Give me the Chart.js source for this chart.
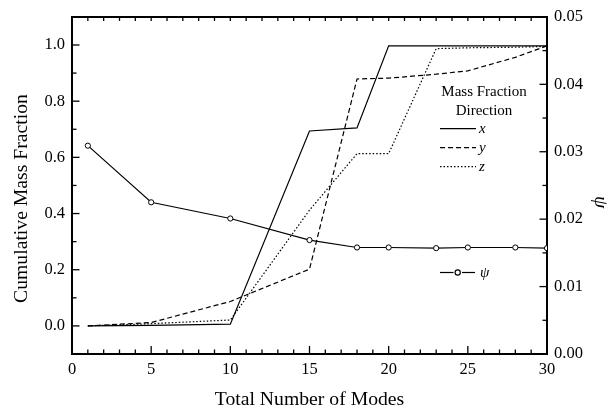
<!DOCTYPE html>
<html><head><meta charset="utf-8">
<script src="https://cdn.jsdelivr.net/npm/chart.js@4/dist/chart.umd.min.js"></script>
<style>html,body{margin:0;padding:0;background:#fff;} canvas{display:block;}</style>
</head><body>
<canvas id="c" width="608" height="415"></canvas>
<script>
// ---- data ----
const modes = [1, 5, 10, 15, 18, 20, 23, 25, 28, 30];
const massX = [0, 0.002, 0.006, 0.694, 0.705, 0.997, 0.997, 0.997, 0.997, 0.997];
const massY = [0, 0.012, 0.087, 0.202, 0.879, 0.882, 0.896, 0.908, 0.956, 0.997];
const massZ = [0, 0.008, 0.021, 0.412, 0.613, 0.613, 0.987, 0.990, 0.992, 0.995];
const psi   = [0.0309, 0.0225, 0.0201, 0.0169, 0.0158, 0.0158, 0.0157, 0.0158, 0.0158, 0.0157];
const xTicks = [0, 5, 10, 15, 20, 25, 30];
const leftTicks = [0, 0.2, 0.4, 0.6, 0.8, 1.0];
const rightTicks = [0, 0.01, 0.02, 0.03, 0.04, 0.05];
const xTitle = 'Total Number of Modes';
const leftTitle = 'Cumulative Mass Fraction';
const rightTitle = 'ψ';
const legendHeader = ['Mass Fraction', 'Direction'];
const legendLabels = ['x', 'y', 'z'];
const psiLabel = 'ψ';

const FONT = '"Liberation Serif", "Times New Roman", serif';
const TICK_SIZE = 16.5;
const dashes = [[], [5, 3], [1.5, 2]];

function pts(ys) { return modes.map((m, i) => ({x: m, y: ys[i]})); }

const decor = {
  id: 'decor',
  afterDraw(chart) {
    const {ctx, chartArea: a, scales} = chart;
    const sx = scales.x, sy = scales.y, s2 = scales.y2;
    ctx.save();
    ctx.strokeStyle = '#000';
    ctx.fillStyle = '#000';
    const seg = (x1, y1, x2, y2) => { ctx.beginPath(); ctx.moveTo(x1, y1); ctx.lineTo(x2, y2); ctx.stroke(); };
    // top frame
    ctx.lineWidth = 2;
    seg(a.left - 1, a.top, a.right + 1, a.top);
    // inward ticks
    ctx.lineWidth = 1.3;
    for (let v = 0; v <= 30; v++) {
      const px = sx.getPixelForValue(v);
      const major = v % 5 === 0;
      seg(px, a.bottom, px, a.bottom - (major ? 8 : 4.5));
      seg(px, a.top, px, a.top + 4);
    }
    for (let i = -1; i <= 11; i++) {
      const py = sy.getPixelForValue(i / 10);
      const major = i % 2 === 0;
      seg(a.left, py, a.left + (major ? 7.5 : 4.5), py);
    }
    for (let i = 0; i <= 10; i++) {
      const py = s2.getPixelForValue(i * 0.005);
      const major = i % 2 === 0;
      seg(a.right, py, a.right - (major ? 7.5 : 4.5), py);
    }
    // axis titles (left and right)
    ctx.font = '19.7px ' + FONT;
    ctx.textAlign = 'center';
    ctx.textBaseline = 'middle';
    ctx.save();
    ctx.translate(22, 198.5);
    ctx.rotate(-Math.PI / 2);
    ctx.fillText(leftTitle, 0, 0);
    ctx.restore();
    ctx.save();
    ctx.font = 'italic 19.7px ' + FONT;
    ctx.translate(600, 202);
    ctx.rotate(Math.PI / 2);
    ctx.fillText(rightTitle, 0, 0);
    ctx.restore();
    // legend
    ctx.font = '15px ' + FONT;
    ctx.textBaseline = 'alphabetic';
    ctx.fillText(legendHeader[0], 484, 95.7);
    ctx.fillText(legendHeader[1], 484, 115);
    const rows = [128.7, 147.7, 166.7];
    ctx.textAlign = 'left';
    ctx.font = 'italic 15px ' + FONT;
    rows.forEach((ry, i) => {
      ctx.setLineDash(dashes[i]);
      ctx.lineWidth = 1.2;
      seg(440, ry, 476, ry);
      ctx.setLineDash([]);
      ctx.fillText(legendLabels[i], 479, ry + 4);
    });
    const py = 272.5;
    ctx.lineWidth = 1.2;
    seg(440, py, 453.5, py);
    seg(462, py, 475, py);
    ctx.beginPath();
    ctx.arc(457.7, py, 2.6, 0, Math.PI * 2);
    ctx.fillStyle = '#fff';
    ctx.fill();
    ctx.stroke();
    ctx.fillStyle = '#000';
    ctx.fillText(psiLabel, 480, py + 4);
    ctx.restore();
  }
};

const lineDs = (label, ys, i) => ({
  label, data: pts(ys), yAxisID: 'y', borderColor: '#000', borderWidth: 1.2,
  borderDash: dashes[i], pointRadius: 0, fill: false, tension: 0
});

new Chart(document.getElementById('c'), {
  type: 'line',
  data: {
    datasets: [
      lineDs('x', massX, 0),
      lineDs('y', massY, 1),
      lineDs('z', massZ, 2),
      {label: 'ψ', data: pts(psi), yAxisID: 'y2', borderColor: '#000', borderWidth: 1.2,
       pointRadius: 2.6, pointBackgroundColor: '#fff', pointBorderColor: '#000', pointBorderWidth: 1,
       fill: false, tension: 0}
    ]
  },
  options: {
    responsive: false, animation: false, devicePixelRatio: 1,
    layout: {padding: {top: 16, left: 0, right: 0, bottom: 0}},
    plugins: {legend: {display: false}, tooltip: {enabled: false}},
    scales: {
      x: {
        type: 'linear', position: 'bottom', min: 0, max: 30,
        afterBuildTicks: s => { s.ticks = xTicks.map(v => ({value: v})); },
        afterFit: s => { s.height = 61; },
        grid: {display: false, drawTicks: false},
        border: {display: true, color: '#000', width: 2},
        ticks: {color: '#000', padding: 6, font: {family: FONT, size: TICK_SIZE}, maxRotation: 0},
        title: {display: true, text: xTitle, color: '#000', font: {family: FONT, size: 19.7}, padding: {top: 0, bottom: 3}}
      },
      y: {
        type: 'linear', position: 'left', min: -0.1, max: 1.1,
        afterBuildTicks: s => { s.ticks = leftTicks.map(v => ({value: v})); },
        afterFit: s => { s.width = 72; },
        grid: {display: false, drawTicks: false},
        border: {display: true, color: '#000', width: 2},
        ticks: {color: '#000', padding: 7, font: {family: FONT, size: TICK_SIZE}, callback: v => Number(v).toFixed(1)},
        title: {display: false}
      },
      y2: {
        type: 'linear', position: 'right', min: 0, max: 0.05,
        afterBuildTicks: s => { s.ticks = rightTicks.map(v => ({value: v})); },
        afterFit: s => { s.width = 61; },
        grid: {display: false, drawTicks: false},
        border: {display: true, color: '#000', width: 2},
        ticks: {color: '#000', padding: 7, font: {family: FONT, size: TICK_SIZE}, callback: v => Number(v).toFixed(2)},
        title: {display: false}
      }
    }
  },
  plugins: [decor]
});
</script>
</body></html>
